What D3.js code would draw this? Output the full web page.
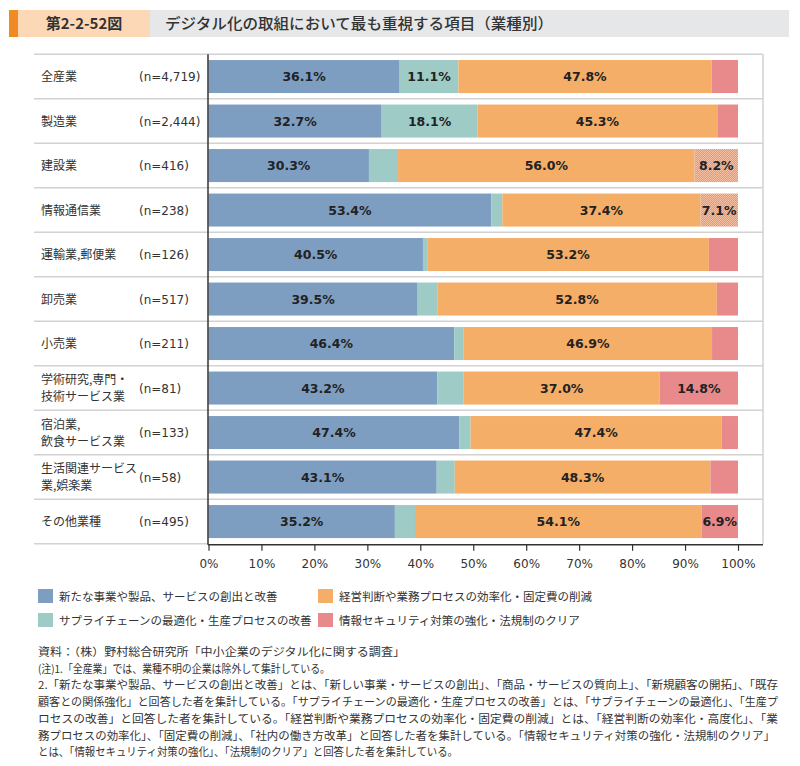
<!DOCTYPE html>
<html><head><meta charset="utf-8">
<script src="https://cdn.jsdelivr.net/npm/d3@7"></script>
<style>body{margin:0;background:#fff}</style>
</head><body><svg id="c" width="800" height="766"></svg>
<script>
// ---------- data ----------
const categories = ["全産業","製造業","建設業","情報通信業","運輸業,郵便業","卸売業","小売業","学術研究,専門・技術サービス業","宿泊業,飲食サービス業","生活関連サービス業,娯楽業","その他業種"];
const categoryLines = [["全産業"],["製造業"],["建設業"],["情報通信業"],["運輸業,郵便業"],["卸売業"],["小売業"],["学術研究,専門・","技術サービス業"],["宿泊業,","飲食サービス業"],["生活関連サービス","業,娯楽業"],["その他業種"]];
const sampleSizes = ["(n=4,719)","(n=2,444)","(n=416)","(n=238)","(n=126)","(n=517)","(n=211)","(n=81)","(n=133)","(n=58)","(n=495)"];
const seriesNames = ["新たな事業や製品、サービスの創出と改善","サプライチェーンの最適化・生産プロセスの改善","経営判断や業務プロセスの効率化・固定費の削減","情報セキュリティ対策の強化・法規制のクリア"];
const newBusiness = [36.1,32.7,30.3,53.4,40.5,39.5,46.4,43.2,47.4,43.1,35.2];
const supplyChain = [11.1,18.1,5.5,2.1,0.8,3.7,1.8,5.0,2.1,3.4,3.8];
const efficiency  = [47.8,45.3,56.0,37.4,53.2,52.8,46.9,37.0,47.4,48.3,54.1];
const security    = [5.0,3.9,8.2,7.1,5.5,4.0,4.9,14.8,3.1,5.2,6.9];
const xTicks = [0,10,20,30,40,50,60,70,80,90,100];
const patternedRows = ["建設業","情報通信業"];
const figureNo = "第2-2-52図";
const title = "デジタル化の取組において最も重視する項目（業種別）";
const notes = [
 "資料：（株）野村総合研究所「中小企業のデジタル化に関する調査」",
 "(注)1.「全産業」では、業種不明の企業は除外して集計している。",
 "2.「新たな事業や製品、サービスの創出と改善」とは、「新しい事業・サービスの創出」、「商品・サービスの質向上」、「新規顧客の開拓」、「既存",
 "顧客との関係強化」と回答した者を集計している。「サプライチェーンの最適化・生産プロセスの改善」とは、「サプライチェーンの最適化」、「生産プ",
 "ロセスの改善」と回答した者を集計している。「経営判断や業務プロセスの効率化・固定費の削減」とは、「経営判断の効率化・高度化」、「業",
 "務プロセスの効率化」、「固定費の削減」、「社内の働き方改革」と回答した者を集計している。「情報セキュリティ対策の強化・法規制のクリア」",
 "とは、「情報セキュリティ対策の強化」、「法規制のクリア」と回答した者を集計している。"
];
const noteWidths = [367,292,740,740,740,737,420];

// ---------- setup ----------
const colors = ["#7e9ec1","#9ecbc6","#f5ae68","#e8898b"];
const jp = "'Noto Sans CJK JP','Noto Sans',sans-serif";
const num = "'DejaVu Sans',Verdana,sans-serif";
const LABEL_MIN = 6;

const svg = d3.select("#c");
const defs = svg.append("defs");
const pat = defs.append("pattern").attr("id","hatch").attr("patternUnits","userSpaceOnUse").attr("width",2).attr("height",2);
pat.append("rect").attr("width",2).attr("height",2).attr("fill","#e9918c");
pat.append("rect").attr("width",1).attr("height",1).attr("fill","#f4bfa3");
pat.append("rect").attr("x",1).attr("y",1).attr("width",1).attr("height",1).attr("fill","#f4bfa3");

// header
svg.append("rect").attr("x",9).attr("y",10).attr("width",9).attr("height",27).attr("fill","#f08a25");
svg.append("rect").attr("x",18).attr("y",10).attr("width",132).attr("height",27).attr("fill","#fdd8b6");
svg.append("rect").attr("x",150).attr("y",10).attr("width",639).attr("height",27).attr("fill","#e6e7e9");
svg.append("text").attr("x",84).attr("y",29).attr("text-anchor","middle").attr("font-family",jp).attr("font-weight","bold").attr("font-size",15).attr("fill","#333").text(figureNo);
svg.append("text").attr("x",165).attr("y",29).attr("font-family",jp).attr("font-weight","500").attr("font-size",15).attr("fill","#333")
  .attr("textLength",388).attr("lengthAdjust","spacingAndGlyphs").text(title);

// scales
const x = d3.scaleLinear().domain([0,100]).range([208.5,738]);
const y = d3.scaleBand().domain(categories).range([54.3,543.8]).paddingInner(0.258).paddingOuter(0.129);
const step = y.step();

const rows = categories.map((c,i)=>({cat:c, s0:newBusiness[i], s1:supplyChain[i], s2:efficiency[i], s3:security[i]}));
const stack = d3.stack().keys(["s0","s1","s2","s3"])(rows);

// grid/frame
const gridTop = y.range()[0], gridBot = y.range()[1];
const g = svg.append("g");
categories.forEach((c,i)=>{
  const yy = gridTop + i*step;
  g.append("line").attr("x1",34).attr("x2",763).attr("y1",yy).attr("y2",yy).attr("stroke","#d2d2d2").attr("stroke-width",1.5);
});
g.append("line").attr("x1",34).attr("x2",208).attr("y1",gridBot).attr("y2",gridBot).attr("stroke","#d2d2d2").attr("stroke-width",1.5);
g.append("line").attr("x1",763).attr("x2",763).attr("y1",gridTop).attr("y2",gridBot).attr("stroke","#d2d2d2").attr("stroke-width",1.5);

// bars
stack.forEach((layer,k)=>{
  svg.append("g").selectAll("rect").data(layer).join("rect")
    .attr("x",d=>x(d[0])).attr("width",d=>x(d[1])-x(d[0]))
    .attr("y",d=>y(d.data.cat)).attr("height",y.bandwidth())
    .attr("fill",d=> (k===3 && patternedRows.includes(d.data.cat)) ? "url(#hatch)" : colors[k]);
});
// labels
stack.forEach((layer,k)=>{
  svg.append("g").selectAll("text").data(layer.filter(d=>d[1]-d[0]>=LABEL_MIN)).join("text")
    .attr("x",d=>(x(d[0])+x(d[1]))/2).attr("y",d=>y(d.data.cat)+y.bandwidth()/2+4.5)
    .attr("text-anchor","middle").attr("font-family",num).attr("font-weight","bold").attr("font-size",12.5).attr("fill","#222")
    .text(d=>(d[1]-d[0]).toFixed(1)+"%");
});

// category labels
categories.forEach((c,i)=>{
  const cy = y(c)+y.bandwidth()/2;
  const lines = categoryLines[i];
  lines.forEach((t,j)=>{
    svg.append("text").attr("x",41).attr("y",cy+4.5+(j-(lines.length-1)/2)*17)
      .attr("font-family",jp).attr("font-size",12).attr("fill","#333").text(t);
  });
  svg.append("text").attr("x",139).attr("y",cy+4.5).attr("font-family",num).attr("font-size",12).attr("fill","#333").text(sampleSizes[i]);
});

// axes
const ax = svg.append("g").attr("transform",`translate(0,${gridBot+1})`)
  .call(d3.axisBottom(x).tickValues(xTicks).tickSize(6).tickPadding(9).tickFormat(d=>d+"%"));
ax.select(".domain").remove();
ax.selectAll(".tick line").attr("stroke","#333").attr("stroke-width",1.2);
ax.selectAll(".tick text").attr("font-family",num).attr("font-size",12).attr("fill","#333");
svg.append("line").attr("x1",208).attr("x2",763).attr("y1",gridBot+1).attr("y2",gridBot+1).attr("stroke","#333").attr("stroke-width",1.5);
svg.append("line").attr("x1",208).attr("x2",208).attr("y1",gridTop).attr("y2",gridBot+1).attr("stroke","#333").attr("stroke-width",1.5);

// legend
const legPos = [[38,589],[318,589],[38,613],[318,613]];
const legOrder = [0,2,1,3];
legOrder.forEach((s,i)=>{
  const [lx,ly] = legPos[i];
  svg.append("rect").attr("x",lx).attr("y",ly).attr("width",15).attr("height",14).attr("fill",colors[s]);
  svg.append("text").attr("x",lx+21).attr("y",ly+11.5).attr("font-family",jp).attr("font-size",11.5).attr("fill","#333").text(seriesNames[s]);
});

// notes
notes.forEach((t,i)=>{
  svg.append("text").attr("x",38).attr("y",656+i*16.7).attr("font-family",jp).attr("font-size",11).attr("fill","#333")
    .attr("textLength",noteWidths[i]).attr("lengthAdjust","spacingAndGlyphs").text(t);
});
</script></body></html>
